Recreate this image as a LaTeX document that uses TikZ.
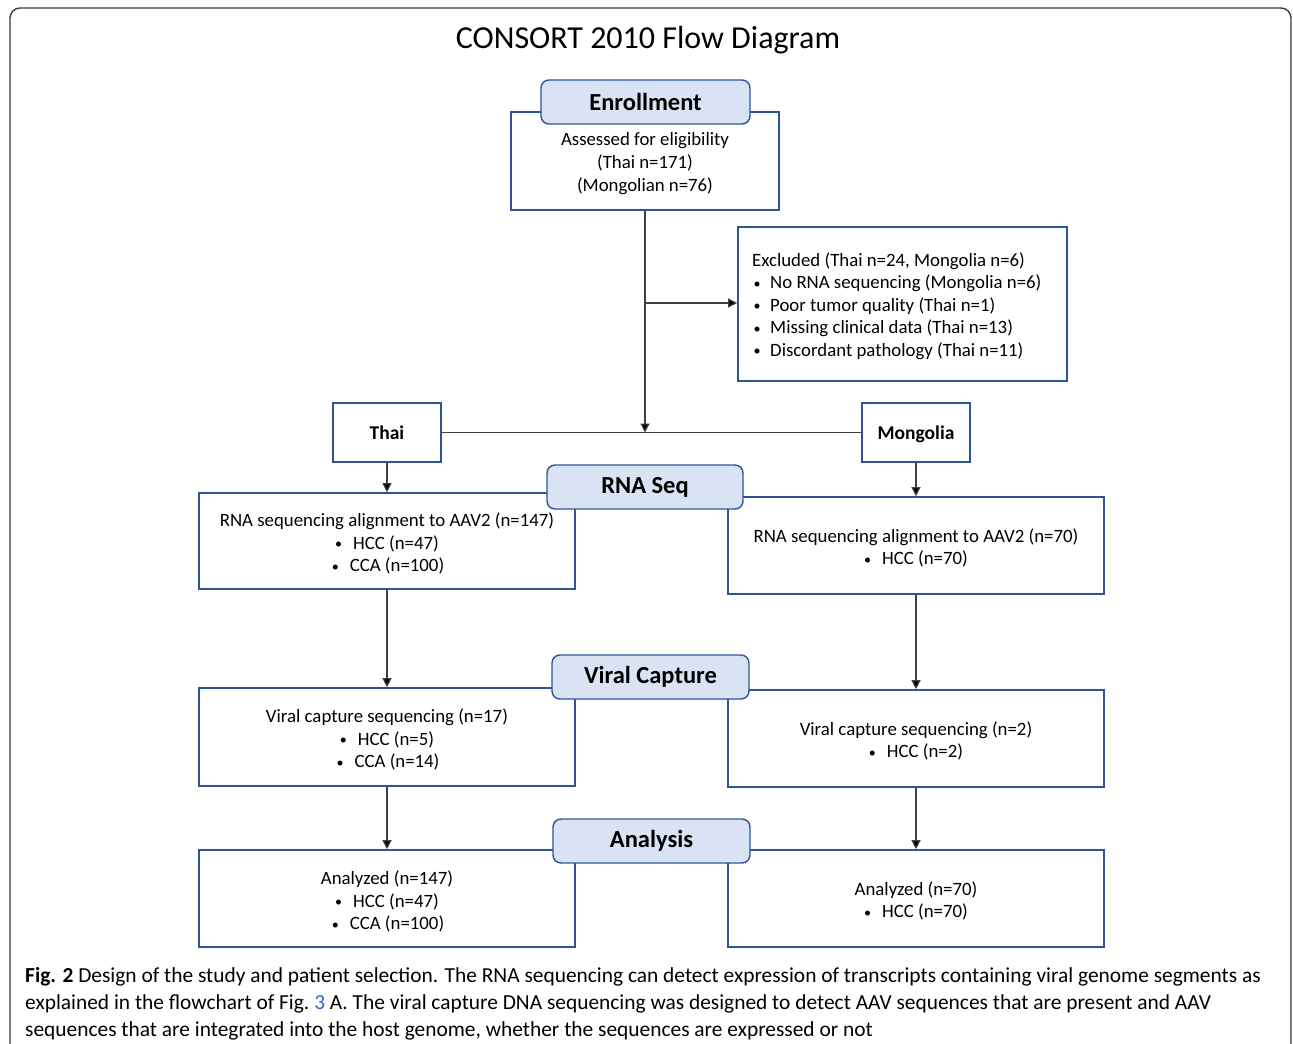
\documentclass[tikz,border=0pt]{standalone}
\usepackage{fontspec}
\setmainfont{Carlito}
\usetikzlibrary{arrows.meta}
\definecolor{bblue}{HTML}{2F5597}
\definecolor{hfill}{HTML}{DAE3F3}
\definecolor{lnk}{HTML}{3366CC}
\definecolor{lgray}{HTML}{404040}
\definecolor{fgray}{HTML}{3C3C3C}
\newcommand{\bul}{\raisebox{0.5pt}{\scalebox{0.75}{•}}}
\begin{document}
\begin{tikzpicture}[x=1pt,y=-1pt,
  box/.style={draw=bblue, line width=1.6pt, fill=white, inner sep=0pt},
  hdr/.style={draw=bblue, line width=1.4pt, fill=hfill, rounded corners=8pt, inner sep=0pt,
     font=\fontsize{24.5}{28}\selectfont\bfseries},
  txt/.style={align=center, font=\fontsize{18.8}{22.6}\selectfont, inner sep=0pt},
  cbox/.style={box, minimum width=108pt, minimum height=59pt, font=\fontsize{19.5}{22}\selectfont\bfseries, text height=13pt, text depth=0pt},
  conn/.style={draw=lgray, line width=1.2pt},
  arr/.style={conn, -{Triangle[length=9pt,width=9pt,fill=black]}}
]
\useasboundingbox (0,0) rectangle (1293,1044);
\clip (0,0) rectangle (1293,1044);
\fill[white] (0,0) rectangle (1293,1044);
% outer frame
\draw[fgray, line width=1.4pt, rounded corners=10pt] (10,1080) -- (10,8) -- (1291,8) -- (1291,1080);

% title
\node[font=\fontsize{32}{36}\selectfont, inner sep=0pt] (title) at (648,40) {CONSORT 2010 Flow Diagram};

% enrollment
\node[box, minimum width=268pt, minimum height=98pt] (enroll) at (645,161) {};
\node[txt] (enrolltxt) at (645,163.5) {Assessed for eligibility\\(Thai n=171)\\(Mongolian n=76)};
\node[hdr, minimum width=209pt, minimum height=44pt] (enrollhdr) at (645.5,102) {\raisebox{-3pt}{Enrollment}};

% excluded
\node[box, minimum width=329pt, minimum height=154pt] (excl) at (902.5,304) {};
\node[txt, align=left, anchor=west] (excltxt) at (752,306) {Excluded (Thai n=24, Mongolia n=6)\\
\makebox[18pt][l]{\hspace{1.5pt}\bul}No RNA sequencing (Mongolia n=6)\\
\makebox[18pt][l]{\hspace{1.5pt}\bul}Poor tumor quality (Thai n=1)\\
\makebox[18pt][l]{\hspace{1.5pt}\bul}Missing clinical data (Thai n=13)\\
\makebox[18pt][l]{\hspace{1.5pt}\bul}Discordant pathology (Thai n=11)};

% country boxes
\node[cbox] (thai) at (387,432.5) {Thai};
\node[cbox] (mong) at (916,432.5) {Mongolia};

% RNA seq
\node[box, minimum width=376pt, minimum height=96pt] (rnaL) at (387,541) {};
\node[txt] (rnaLtxt) at (387,543.5) {RNA sequencing alignment to AAV2 (n=147)\\ \bul\hspace{11pt}HCC (n=47)\\ \hspace{2pt}\bul\hspace{11pt}CCA (n=100)};
\node[box, minimum width=376pt, minimum height=97pt] (rnaR) at (916,545.5) {};
\node[txt] (rnaRtxt) at (916,548) {RNA sequencing alignment to AAV2 (n=70)\\ \bul\hspace{11pt}HCC (n=70)};
\node[hdr, minimum width=196pt, minimum height=44pt] (rnahdr) at (645,487) {\raisebox{-3pt}{RNA Seq}};

% viral capture
\node[box, minimum width=376pt, minimum height=98pt] (vcL) at (387,737) {};
\node[txt] (vcLtxt) at (387,739.5) {Viral capture sequencing (n=17)\\ \bul\hspace{11pt}HCC (n=5)\\ \hspace{2pt}\bul\hspace{11pt}CCA (n=14)};
\node[box, minimum width=376pt, minimum height=97pt] (vcR) at (916,738.5) {};
\node[txt] (vcRtxt) at (916,741) {Viral capture sequencing (n=2)\\ \bul\hspace{11pt}HCC (n=2)};
\node[hdr, minimum width=197pt, minimum height=44pt] (vchdr) at (650.5,677) {\raisebox{-3pt}{Viral Capture}};

% analysis
\node[box, minimum width=376pt, minimum height=97pt] (anL) at (387,898.5) {};
\node[txt] (anLtxt) at (387,901.5) {Analyzed (n=147)\\ \bul\hspace{11pt}HCC (n=47)\\ \hspace{2pt}\bul\hspace{11pt}CCA (n=100)};
\node[box, minimum width=376pt, minimum height=97pt] (anR) at (916,898.5) {};
\node[txt] (anRtxt) at (916,901) {Analyzed (n=70)\\ \bul\hspace{11pt}HCC (n=70)};
\node[hdr, minimum width=197pt, minimum height=44pt] (anhdr) at (651.5,841) {\raisebox{-3pt}{Analysis}};

% connectors
\coordinate (jn) at (645,432.5);
\coordinate (br) at (645,303);
\draw[conn] (enroll.south) -- (br);
\draw[arr] (br) -- (jn);
\draw[arr] (br) -- (excl.west |- br);
\draw[conn] (thai.east) -- (mong.west);
\draw[arr] (thai.south) -- (rnaL.north);
\draw[arr] (mong.south) -- (rnaR.north);
\draw[arr] (rnaL.south) -- (vcL.north);
\draw[arr] (rnaR.south) -- (vcR.north);
\draw[arr] (vcL.south) -- (anL.north);
\draw[arr] (vcR.south) -- (anR.north);

% caption
\node[anchor=north west, align=left, inner sep=0pt, font=\fontsize{21.4}{27}\selectfont] (cap) at (25,967) {\textbf{Fig. 2} Design of the study and patient selection. The RNA sequencing can detect expression of transcripts containing viral genome segments as\\
explained in the flowchart of Fig.~\textcolor{lnk}{3} A. The viral capture DNA sequencing was designed to detect AAV sequences that are present and AAV\\
sequences that are integrated into the host genome, whether the sequences are expressed or not};
\end{tikzpicture}
\end{document}
